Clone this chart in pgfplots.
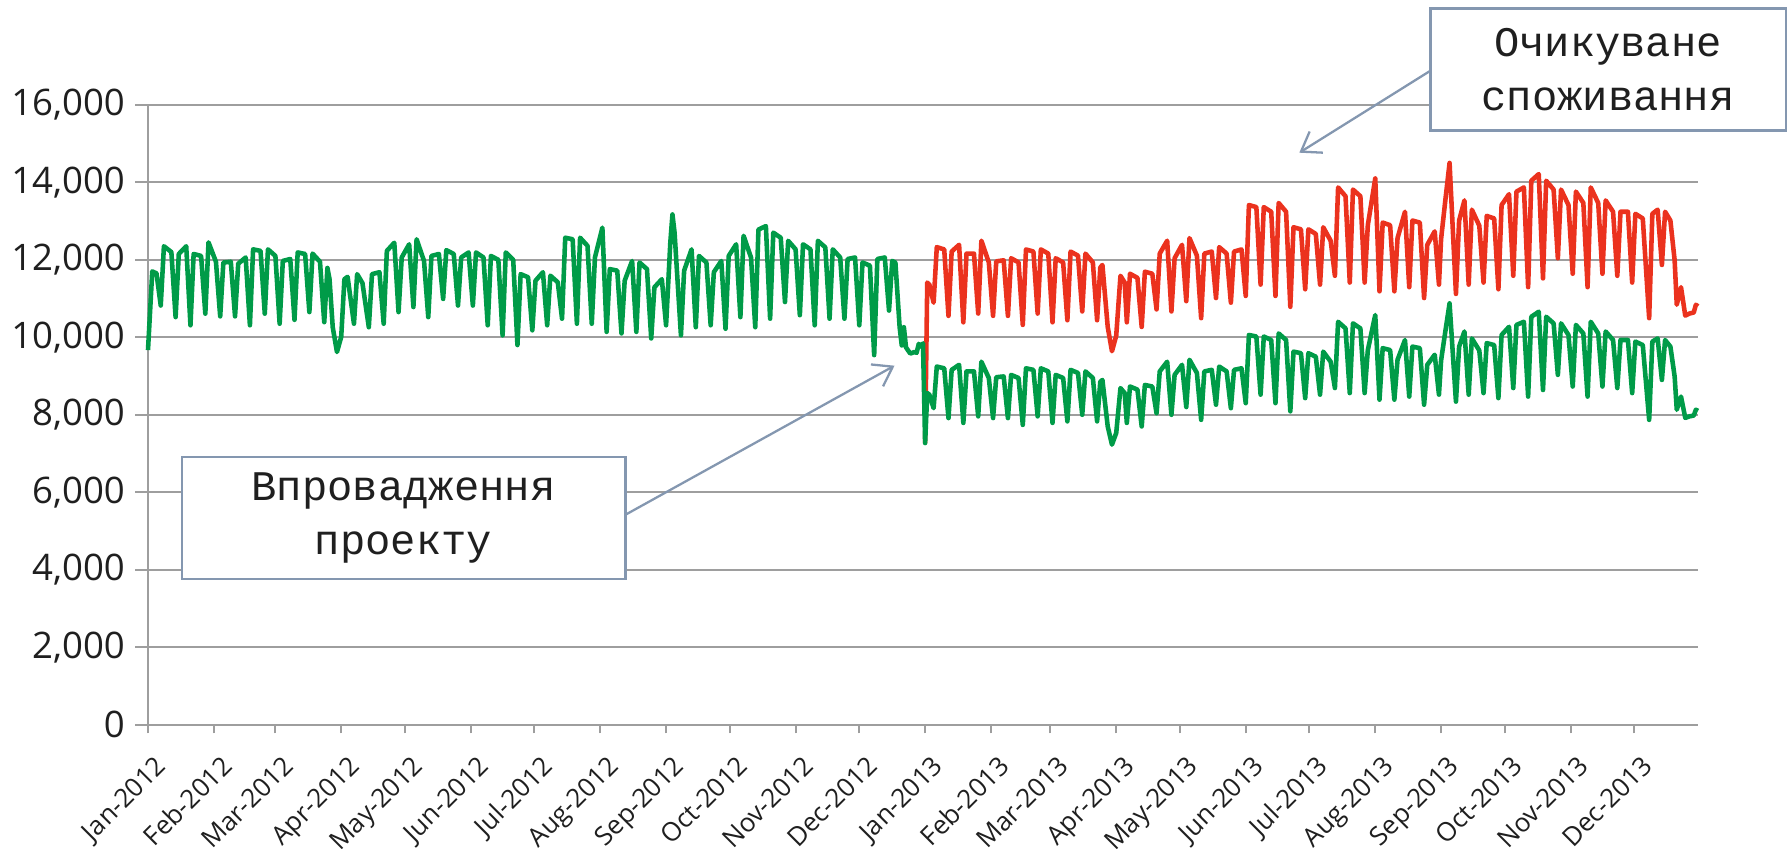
\documentclass[border=0pt]{standalone}
\usepackage{fontspec}
\setmainfont{Open Sans}
\newfontfamily\annfont{Liberation Mono}
\usepackage{pgfplots}
\pgfplotsset{compat=1.18}
\usepackage{pgfplotstable}
\usetikzlibrary{arrows.meta}

\definecolor{gline}{RGB}{0,155,72}
\definecolor{rline}{RGB}{235,50,30}
\definecolor{gridc}{RGB}{158,158,158}
\definecolor{boxc}{RGB}{132,151,176}

\pgfplotstableread{
d g
0 9670
2 11700
4 11650
6 10820
7.5 12350
11 12200
13 10520
14.5 12150
18 12350
20 10310
21.5 12150
25 12100
27 10610
28.5 12450
32 11950
34 10540
35.5 11930
39 11950
41 10540
42.5 11900
46 12060
48 10310
49.5 12270
53 12230
55 10610
56.5 12270
60 12100
62 10350
63.5 11970
67 12020
69 10450
70.5 12190
74 12150
76 10650
77.5 12160
81 11950
83 10390
84.5 11790
85.5 11500
87 10260
89 9620
91 10010
92.5 11500
94 11560
97 10350
98.5 11630
101 11400
104 10260
105.5 11630
109 11680
111 10350
112.5 12230
116 12440
118 10650
119.5 12060
123 12400
125 10780
126.5 12530
130 11970
132 10520
133.5 12100
137 12150
139 10990
140.5 12250
144 12150
146 10820
147.5 12060
151 12190
153 10820
154.5 12190
158 12060
160 10310
161.5 12100
165 12000
167 10050
168.5 12190
172 12000
174 9800
175.5 11630
179 11550
181 10180
182.5 11460
186 11680
188 10310
189.5 11590
193 11420
195 10480
196.5 12570
200 12530
202 10350
203.5 12570
207 12360
209 10350
210.5 12060
214 12830
216 10140
217.5 11760
221 11720
223 10100
224.5 11460
228 11970
230 10140
231.5 11930
235 11760
237 9970
238.5 11290
242 11500
244 10310
246 12450
247 13170
248 12700
251 10050
252.5 11720
256 12270
258 10260
259.5 12100
263 11930
265 10310
266.5 11680
270 11970
272 10220
273.5 12100
277 12400
279 10520
280.5 12620
284 12060
286 10260
287.5 12780
291 12870
293 10480
294.5 12700
298 12570
300 10910
301.5 12490
305 12270
307 10570
308.5 12400
312 12270
314 10310
315.5 12490
319 12320
321 10480
322.5 12270
326 12060
328 10480
329.5 12020
333 12060
335 10310
336.5 11930
340 11850
342 9540
343.5 12020
347 12060
349 10690
350.5 11970
352 11930
354 10260
355 9790
356 10260
357 9740
359 9580
361 9620
362 9600
363 9830
364 9760
365 9845
366 7270
367 8560
368 8520
370 8170
371.5 9245
375 9200
377 7915
378.5 9160
382 9290
384 7790
385.5 9120
389 9120
391 7960
392.5 9370
396 8950
398 7915
399.5 8970
403 8990
405 7915
406.5 9030
410 8950
412 7740
413.5 9200
417 9160
419 7960
420.5 9200
424 9120
426 7790
427.5 9030
431 8950
433 7830
434.5 9160
438 9080
440 8000
441.5 9120
445 8950
447 7830
448.5 8850
449.5 8900
452 7700
454 7230
456 7530
458 8690
460 8560
461 7790
462.5 8730
466 8650
468 7700
469.5 8770
473 8730
475 8040
476.5 9120
480 9370
482 8000
483.5 9030
487 9290
489 8200
490.5 9420
494 9080
496 7870
497.5 9120
501 9160
503 8260
504.5 9245
508 9120
510 8170
511.5 9160
515 9200
517 8300
518.5 10060
522 10020
524 8520
525.5 10020
529 9930
531 8300
532.5 10100
536 9930
538 8090
539.5 9630
543 9590
545 8430
546.5 9590
550 9500
552 8520
553.5 9630
557 9370
559 8690
560.5 10400
564 10230
566 8560
567.5 10360
571 10230
573 8560
574.5 9670
578 10575
580 8390
581.5 9720
585 9670
587 8390
588.5 9420
592 9930
594 8470
595.5 9760
599 9720
601 8260
602.5 9290
606 9550
608 8520
609 9400
611 10150
613 10875
616 8340
617.5 9760
620 10150
622 8520
623.5 9970
627 9660
629 8560
630.5 9850
634 9800
636 8430
637.5 10060
641 10270
643 8690
644.5 10320
648 10400
650 8470
651.5 10530
655 10660
657 8640
658.5 10530
662 10360
664 9030
665.5 10360
669 10060
671 8730
672.5 10320
676 10100
678 8470
679.5 10400
683 10100
685 8730
686.5 10150
690 9930
692 8690
693.5 9930
697 9930
699 8560
700.5 9890
704 9800
707 7870
708.5 9890
711 9970
713 8900
714.5 9930
717 9760
719 8990
720 8130
722 8470
724 7920
726 7960
728 7980
729 8130
730 8100
}\greendata

\pgfplotstableread{
d r
366 7270
367 11413
368 11360
370 10893
371.5 12327
375 12267
377 10553
378.5 12213
382 12387
384 10387
385.5 12160
389 12160
391 10613
392.5 12493
396 11933
398 10553
399.5 11960
403 11987
405 10553
406.5 12040
410 11933
412 10320
413.5 12267
417 12213
419 10613
420.5 12267
424 12160
426 10387
427.5 12040
431 11933
433 10440
434.5 12213
438 12107
440 10667
441.5 12160
445 11933
447 10440
448.5 11800
449.5 11867
452 10267
454 9640
456 10040
458 11587
460 11413
461 10387
462.5 11640
466 11533
468 10267
469.5 11693
473 11640
475 10720
476.5 12160
480 12493
482 10667
483.5 12040
487 12387
489 10933
490.5 12560
494 12107
496 10493
497.5 12160
501 12213
503 11013
504.5 12327
508 12160
510 10893
511.5 12213
515 12267
517 11067
518.5 13413
522 13360
524 11360
525.5 13360
529 13240
531 11067
532.5 13467
536 13240
538 10787
539.5 12840
543 12787
545 11240
546.5 12787
550 12667
552 11360
553.5 12840
557 12493
559 11587
560.5 13867
564 13640
566 11413
567.5 13813
571 13640
573 11413
574.5 12893
578 14100
580 11187
581.5 12960
585 12893
587 11187
588.5 12560
592 13240
594 11293
595.5 13013
599 12960
601 11013
602.5 12387
606 12733
608 11360
609 12533
611 13533
613 14500
616 11120
617.5 13013
620 13533
622 11360
623.5 13293
627 12880
629 11413
630.5 13133
634 13067
636 11240
637.5 13413
641 13693
643 11587
644.5 13760
648 13867
650 11293
651.5 14040
655 14213
657 11520
658.5 14040
662 13813
664 12040
665.5 13813
669 13413
671 11640
672.5 13760
676 13467
678 11293
679.5 13867
683 13467
685 11640
686.5 13533
690 13240
692 11587
693.5 13240
697 13240
699 11413
700.5 13187
704 13067
707 10493
708.5 13187
711 13293
713 11867
714.5 13240
717 13013
719 11987
720 10840
722 11293
724 10560
726 10613
728 10640
729 10840
730 10800
}\reddata

\begin{document}
\begin{tikzpicture}
\begin{axis}[
  scale only axis, width=155mm, height=62mm,
  xmin=0, xmax=730, ymin=0, ymax=16000,
  axis x line*=bottom, axis y line*=left,
  axis line style={gridc, line width=0.55pt},
  ytick={0,2000,...,16000},
  scaled y ticks=false,
  ymajorgrids, grid style={gridc, line width=0.55pt},
  xtick={0,31,60,91,121,152,182,213,244,274,305,335,366,397,425,456,486,517,547,578,609,639,670,700},
  xticklabels={Jan-2012,Feb-2012,Mar-2012,Apr-2012,May-2012,Jun-2012,Jul-2012,Aug-2012,Sep-2012,Oct-2012,Nov-2012,Dec-2012,Jan-2013,Feb-2013,Mar-2013,Apr-2013,May-2013,Jun-2013,Jul-2013,Aug-2013,Sep-2013,Oct-2013,Nov-2013,Dec-2013},
  tick align=outside,
  major tick length=1.25mm,
  xtick style={gridc, line width=0.55pt, /pgfplots/major tick length=0.85mm},
  ytick style={gridc, line width=0.55pt},
  yticklabel style={font=\fontsize{10.4}{12}\selectfont, text=black!88, anchor=east, inner sep=0pt, xshift=-1.0mm},
  xticklabel style={font=\fontsize{7.4}{8}\selectfont, text=black!88, xshift=0.6mm, yshift=-1.6mm, rotate=45, anchor=north east, inner sep=0pt},
  /pgf/number format/1000 sep={,},
  /pgf/number format/assume math mode=true,
  clip=false,
]
\addplot[rline, line width=1.3pt, line join=round, no markers] table[x=d, y=r] {\reddata};
\addplot[gline, line width=1.3pt, line join=round, no markers] table[x=d, y=g] {\greendata};
\coordinate (SW) at (rel axis cs:0,0);
\end{axis}
\draw[boxc, line width=0.65pt, -{Straight Barb[length=1.8mm,width=2.5mm]}] ([shift={(128.2mm,65.38mm)}]SW) -- ([shift={(115.13mm,57.21mm)}]SW);
\draw[boxc, line width=0.65pt, -{Straight Barb[length=1.8mm,width=2.5mm]}] ([shift={(47.7mm,20.98mm)}]SW) -- ([shift={(74.65mm,35.91mm)}]SW);
\node[draw=boxc, line width=0.85pt, fill=white, minimum width=35.6mm, minimum height=12.17mm, inner sep=0pt, align=center, text=black!88, font=\annfont\fontsize{12}{15.2}\selectfont] at ([shift={(146.0mm,65.5mm)}]SW) {Очикуване\\споживання};
\node[draw=boxc, line width=0.85pt, fill=white, minimum width=44.3mm, minimum height=12.2mm, inner sep=0pt, align=center, text=black!88, font=\annfont\fontsize{12}{15.2}\selectfont] at ([shift={(25.55mm,20.68mm)}]SW) {Впровадження\\проекту};
\pgfresetboundingbox
\path[use as bounding box] ([shift={(-14.8mm,-12.42mm)}]SW) rectangle ([shift={(163.9mm,72.48mm)}]SW);
\end{tikzpicture}
\end{document}
